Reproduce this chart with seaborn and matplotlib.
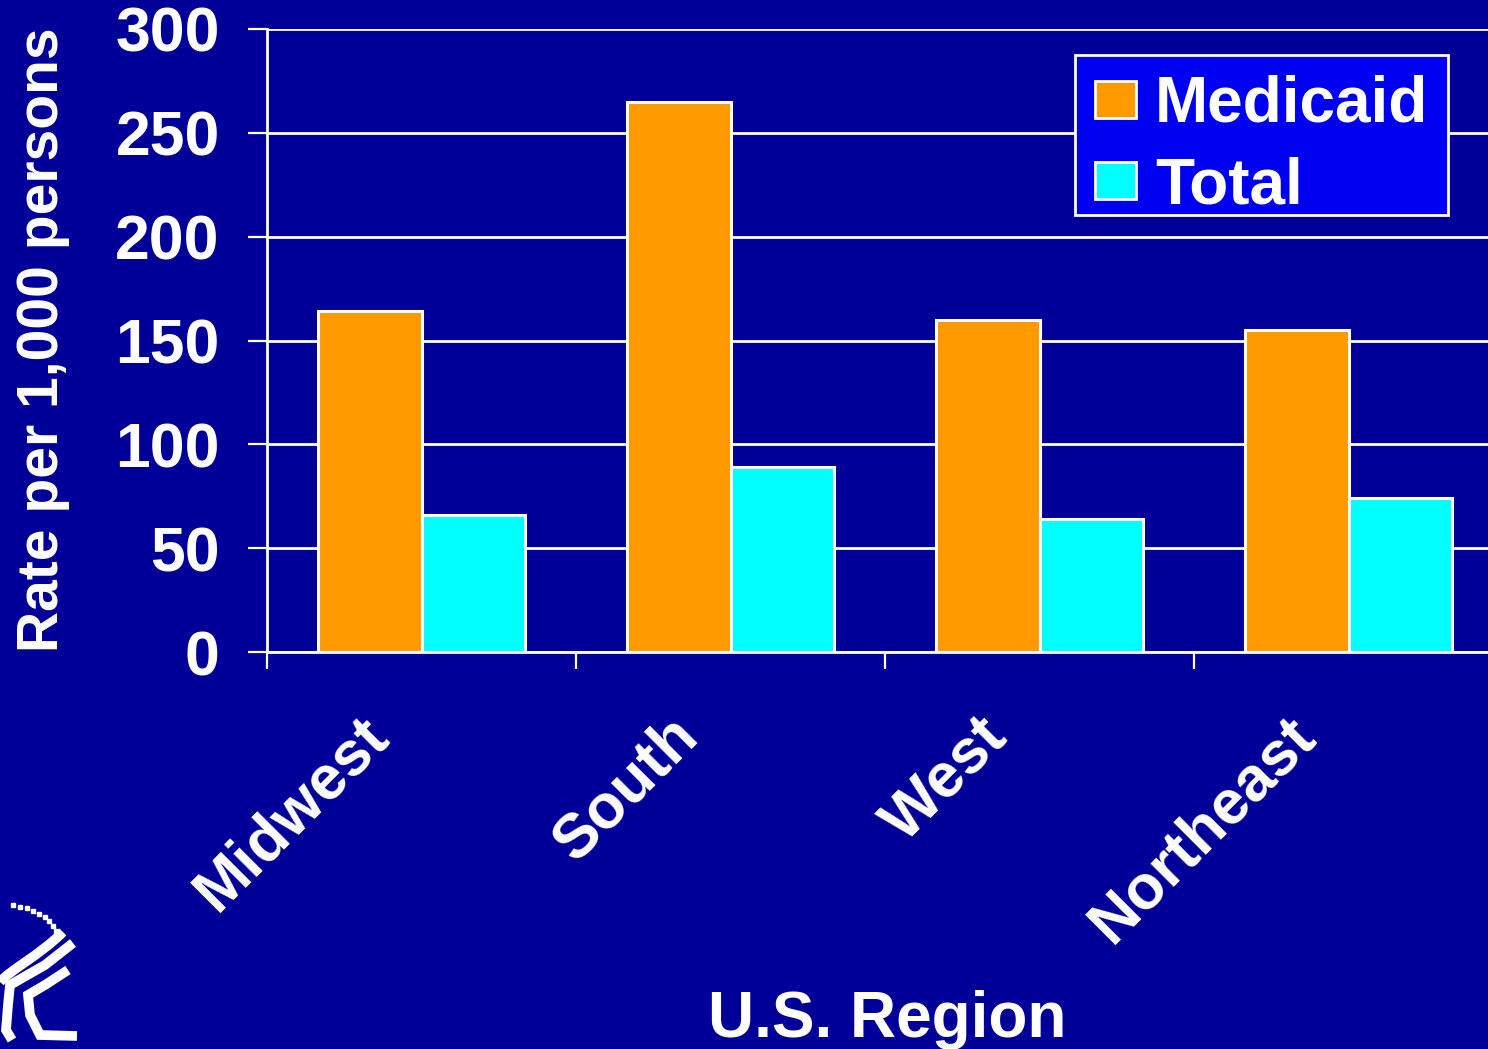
import matplotlib
matplotlib.use("Agg")
import matplotlib.pyplot as plt
import matplotlib.transforms as mtransforms
from matplotlib.path import Path
from matplotlib.patches import PathPatch, Patch, Rectangle
import numpy as np
import pandas as pd
import seaborn as sns

regions = ["Midwest", "South", "West", "Northeast"]
medicaid = [164, 265, 160, 155]
total = [66, 89, 64, 74]
series_names = ["Medicaid", "Total"]
series_colors = ["#FF9900", "#00FFFF"]
y_ticks = [0, 50, 100, 150, 200, 250, 300]

df = pd.DataFrame({
    "Region": regions * 2,
    "Rate": medicaid + total,
    "Series": [series_names[0]] * len(regions) + [series_names[1]] * len(regions),
})

sns.set_theme(style="ticks")
plt.rcParams["font.family"] = ["Liberation Sans", "DejaVu Sans"]
plt.rcParams["font.weight"] = "bold"

BG = "#000099"
W, H = 1488, 1049
fig = plt.figure(figsize=(W / 100, H / 100), dpi=100, facecolor=BG)
ax = fig.add_axes([267 / W, 1 - 652 / H, (1503 - 267) / W, (652 - 29) / H])
ax.set_facecolor(BG)

sns.barplot(data=df, x="Region", y="Rate", hue="Series", order=regions,
            hue_order=series_names, palette=series_colors, width=0.673,
            edgecolor="white", linewidth=2.2, saturation=1, ax=ax, legend=False,
            zorder=3)

ax.set_xlim(-0.5, 3.5)
ax.set_ylim(0, 300)
ax.set_yticks(y_ticks)
ax.yaxis.grid(True, color="white", linewidth=2, zorder=0)
ax.set_axisbelow(True)
for s in ["top", "right"]:
    ax.spines[s].set_visible(False)
for s in ["left", "bottom"]:
    ax.spines[s].set_color("white")
    ax.spines[s].set_linewidth(2)
    ax.spines[s].set_zorder(4)

fs = 45
ax.tick_params(axis="y", which="major", left=True, colors="white", direction="out",
               length=14, width=1.6, pad=20, labelsize=fs)
for lab in ax.get_yticklabels():
    lab.set_fontweight("bold")

# category boundaries get the x tick marks; labels sit at the centres
ax.set_xticks(np.arange(-0.5, 3.0, 1.0), minor=True)
ax.tick_params(axis="x", which="minor", bottom=True, colors="white", direction="out",
               length=12.5, width=1.6)
ax.tick_params(axis="x", which="major", bottom=True, length=0, labelsize=fs,
               labelcolor="white")
offset = mtransforms.ScaledTranslation(-42 / 100, -70 / 100, fig.dpi_scale_trans)
for lab in ax.get_xticklabels():
    lab.set_rotation(45)
    lab.set_ha("right")
    lab.set_va("center")
    lab.set_rotation_mode("anchor")
    lab.set_fontweight("bold")
    lab.set_transform(lab.get_transform() + offset)

ax.set_xlabel("")
ax.set_ylabel("")
fig.text(887 / W, 1 - 1020 / H, "U.S. Region", color="white", fontsize=46,
         fontweight="bold", ha="center", va="center")
fig.text(43 / W, 1 - 340 / H, "Rate per 1,000 persons", color="white", fontsize=41,
         fontweight="bold", ha="center", va="center", rotation=90)

# legend box drawn as its own rectangle so its size is fixed
fig.add_artist(Rectangle((1075 / W, 1 - 215 / H), (1448 - 1075) / W, (215 - 55) / H,
                         facecolor="#0000F0", edgecolor="white", linewidth=2,
                         transform=fig.transFigure, zorder=5))
handles = [Patch(facecolor=c, edgecolor="white", linewidth=2) for c in series_colors]
leg = fig.legend(handles, series_names, loc="upper left",
                 bbox_to_anchor=(1095 / W, 1 - 75 / H), fontsize=46,
                 frameon=False, handlelength=0.64,
                 handleheight=0.52, handletextpad=0.3, labelspacing=0.33,
                 borderpad=0, borderaxespad=0)
leg.set_zorder(6)
for t in leg.get_texts():
    t.set_color("white")
    t.set_fontweight("bold")

# department emblem in the lower-left corner
def to_fig(pts):
    return [(x / W, 1 - y / H) for x, y in pts]

strokes = [
    [(63, 932), (40, 955), (10, 970), (0, 982)],
    [(73, 943), (45, 965), (10, 985), (8, 1005), (6, 1030), (12, 1040)],
    [(68, 970), (45, 985), (28, 995), (30, 1015), (40, 1035), (77, 1036)],
]
for pts in strokes:
    verts = to_fig(pts)
    codes = [Path.MOVETO] + [Path.CURVE4] * 3 if len(pts) == 4 else \
        [Path.MOVETO] + [Path.LINETO] * (len(pts) - 1)
    fig.add_artist(PathPatch(Path(verts, codes), facecolor="none",
                             edgecolor="white", linewidth=7,
                             transform=fig.transFigure))
for i, ang in enumerate(np.linspace(0.15, 1.2, 9)):
    fig.add_artist(plt.Line2D([(5 + 55 * np.sin(ang)) / W], [1 - (905 + 40 * (1 - np.cos(ang))) / H],
                              marker="s", markersize=2.2, color="white",
                              transform=fig.transFigure))

fig.savefig("out.png", dpi=100, facecolor=BG)
